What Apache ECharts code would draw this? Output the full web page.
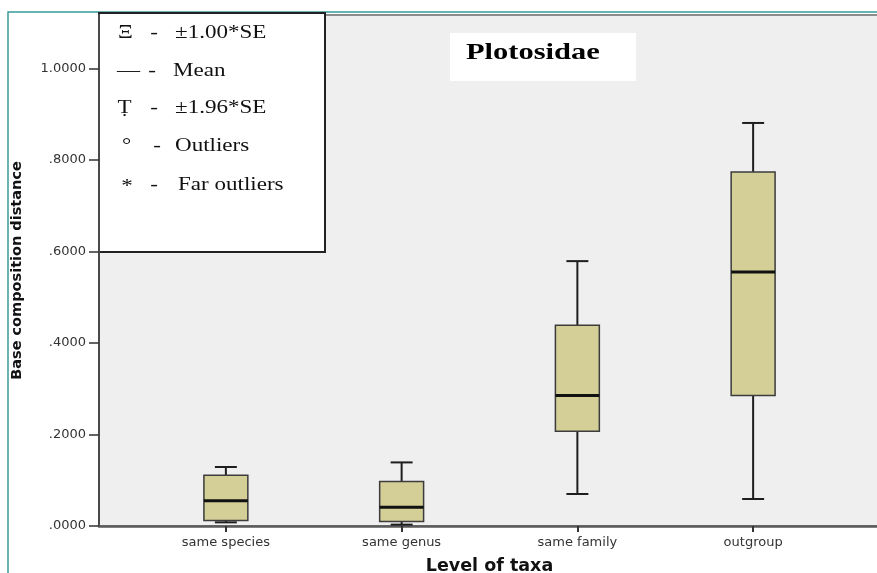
<!DOCTYPE html>
<html>
<head>
<meta charset="utf-8">
<script src="https://cdn.jsdelivr.net/npm/echarts@6/dist/echarts.min.js"></script>
<style>
html,body{margin:0;padding:0;background:#fff;}
#chart{width:877px;height:573px;}
</style>
</head>
<body>
<div id="chart"></div>
<script>
// ---- data ----
const categories = ['same species', 'same genus', 'same family', 'outgroup'];
const whiskerLow  = [0.008, 0.003, 0.070, 0.059];
const quartile1   = [0.012, 0.010, 0.207, 0.285];
const medians     = [0.055, 0.041, 0.285, 0.555];
const quartile3   = [0.111, 0.097, 0.439, 0.774];
const whiskerHigh = [0.129, 0.139, 0.579, 0.881];
const yTicks      = [0, 0.2, 0.4, 0.6, 0.8, 1.0];
const yTickLabels = ['.0000', '.2000', '.4000', '.6000', '.8000', '1.0000'];
const legendSymbols = ['\u039E', '\u2014', '\u1E6C', '\u00B0', '*'];
const legendTexts   = ['\u00B11.00*SE', 'Mean', '\u00B11.96*SE', 'Outliers', 'Far outliers'];
const chartTitle = 'Plotosidae';
const yTitle = 'Base composition distance';
const xTitle = 'Level of taxa';

const boxData = categories.map((c, i) => [i, whiskerLow[i], quartile1[i], medians[i], quartile3[i], whiskerHigh[i]]);

const Y_MAX = 1.117;
const SX = 1.28;
const serif = '"Liberation Serif","Times New Roman",serif';
const sans = '"DejaVu Sans",sans-serif';

function renderBox(params, api) {
  const x = api.value(0);
  const pMin = api.coord([x, api.value(1)]);
  const pQ1 = api.coord([x, api.value(2)]);
  const pMed = api.coord([x, api.value(3)]);
  const pQ3 = api.coord([x, api.value(4)]);
  const pMax = api.coord([x, api.value(5)]);
  const bw = api.size([1, 0])[0] * 0.25;
  const cx = pMed[0];
  const cap = bw / 4;
  const wStyle = { stroke: '#1e1e1e', lineWidth: 2 };
  return {
    type: 'group',
    children: [
      { type: 'line', shape: { x1: cx, y1: pQ1[1], x2: cx, y2: pMin[1] }, style: wStyle },
      { type: 'line', shape: { x1: cx - cap, y1: pMin[1], x2: cx + cap, y2: pMin[1] }, style: wStyle },
      { type: 'line', shape: { x1: cx, y1: pQ3[1], x2: cx, y2: pMax[1] }, style: wStyle },
      { type: 'line', shape: { x1: cx - cap, y1: pMax[1], x2: cx + cap, y2: pMax[1] }, style: wStyle },
      { type: 'rect', shape: { x: cx - bw / 2, y: pQ3[1], width: bw, height: pQ1[1] - pQ3[1] },
        style: { fill: '#d4ce97', stroke: '#3c3c3c', lineWidth: 1.5 } },
      { type: 'line', shape: { x1: cx - bw / 2, y1: pMed[1], x2: cx + bw / 2, y2: pMed[1] },
        style: { stroke: '#111', lineWidth: 3 } }
    ]
  };
}

// legend graphic
const rowY = [33, 71, 108.5, 146.5, 185];
const symX = [125.5, 128.5, 124.5, 126.5, 127];
const symDY = [0, 0, 0, 0, 2];
const dashX = [154, 152, 154, 157, 154];
const textX = [175, 173, 175, 175, 178];
const legendChildren = [
  { type: 'rect', shape: { x: 99, y: 13, width: 226, height: 239 }, style: { fill: '#fff', stroke: '#222', lineWidth: 2 } }
];
legendTexts.forEach((t, i) => {
  legendChildren.push({ type: 'text', x: symX[i], y: rowY[i] + symDY[i], scaleX: SX,
    style: { text: legendSymbols[i], font: '18px ' + serif, fill: '#111', align: 'center', verticalAlign: 'middle' } });
  legendChildren.push({ type: 'text', x: dashX[i], y: rowY[i], scaleX: SX,
    style: { text: '-', font: '18px ' + serif, fill: '#111', align: 'center', verticalAlign: 'middle' } });
  legendChildren.push({ type: 'text', x: textX[i], y: rowY[i], scaleX: SX,
    style: { text: t, font: '18px ' + serif, fill: '#111', align: 'left', verticalAlign: 'middle' } });
});

const chart = echarts.init(document.getElementById('chart'), null, { renderer: 'canvas' });
chart.setOption({
  animation: false,
  backgroundColor: '#ffffff',
  grid: [
    { left: 99, top: 15, width: 800, height: 511, show: true, backgroundColor: '#efefef',
      borderColor: '#8c8c8c', borderWidth: 2, containLabel: false, outerBoundsMode: 'none' },
    { left: 138, top: 15, width: 703, height: 511, containLabel: false, outerBoundsMode: 'none' }
  ],
  xAxis: [
    { type: 'value', gridIndex: 0, min: 0, max: 1,
      axisLine: { show: true, lineStyle: { color: '#5a5a5a', width: 2.5 } },
      axisTick: { show: false }, axisLabel: { show: false }, splitLine: { show: false } },
    { type: 'category', gridIndex: 1, data: categories, boundaryGap: true,
      axisLine: { show: false },
      axisTick: { show: true, alignWithLabel: true, length: 6, lineStyle: { color: '#333', width: 2 } },
      axisLabel: { margin: 10, color: '#333', fontFamily: sans, fontSize: 13 },
      splitLine: { show: false },
      name: xTitle, nameLocation: 'middle', nameGap: 31,
      nameTextStyle: { fontFamily: sans, fontWeight: 'bold', fontSize: 17.5, color: '#111' } }
  ],
  yAxis: [
    { type: 'value', gridIndex: 0, min: 0, max: Y_MAX, interval: 0.2,
      axisLine: { show: true, lineStyle: { color: '#4a4a4a', width: 2 } },
      axisTick: { show: true, length: 10, customValues: yTicks, lineStyle: { color: '#333', width: 1.5 } },
      axisLabel: { margin: 13, color: '#333', fontFamily: sans, fontSize: 13, customValues: yTicks,
        formatter: (v) => { const k = yTicks.findIndex(t => Math.abs(t - v) < 1e-9); return k >= 0 ? yTickLabels[k] : ''; } },
      splitLine: { show: false },
      name: yTitle, nameLocation: 'middle', nameRotate: 90, nameGap: 74,
      nameTextStyle: { fontFamily: sans, fontWeight: 'bold', fontSize: 14.5, color: '#111' } },
    { type: 'value', gridIndex: 1, min: 0, max: Y_MAX, show: false }
  ],
  series: [
    { type: 'custom', name: 'Base composition distance', xAxisIndex: 1, yAxisIndex: 1,
      renderItem: renderBox, data: boxData, encode: { x: 0, y: [1, 2, 3, 4, 5] }, z: 5 }
  ],
  graphic: [
    { type: 'rect', z: 0, silent: true, shape: { x: 8, y: 12, width: 900, height: 600 },
      style: { fill: 'none', stroke: '#3a9b9b', lineWidth: 1.5 } },
    { type: 'group', z: 100, children: legendChildren },
    { type: 'group', z: 100, children: [
      { type: 'rect', shape: { x: 450, y: 33, width: 186, height: 48 }, style: { fill: '#fff' } },
      { type: 'text', x: 466, y: 53, scaleX: 1.27,
        style: { text: chartTitle, font: 'bold 24px ' + serif, fill: '#000', align: 'left', verticalAlign: 'middle' } }
    ] }
  ]
});
</script>
</body>
</html>
